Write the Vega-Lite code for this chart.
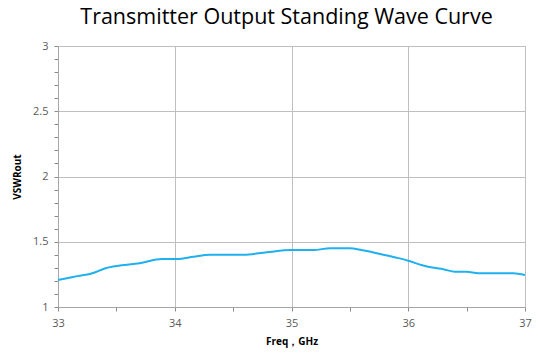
{
  "$schema": "https://vega.github.io/schema/vega-lite/v6.json",
  "width": 467,
  "height": 261,
  "autosize": {"type": "none"},
  "padding": {"left": 58, "top": 46, "right": 13, "bottom": 49},
  "background": "white",
  "title": {
    "text": "Transmitter Output Standing Wave Curve",
    "font": "Open Sans",
    "fontSize": 21.5,
    "fontWeight": "normal",
    "color": "#000000",
    "anchor": "middle",
    "dx": -5,
    "offset": 12
  },
  "config": {
    "view": {"stroke": "#a6a6a6", "strokeWidth": 1},
    "axis": {
      "labelFont": "Open Sans",
      "labelFontSize": 11,
      "labelColor": "#595959",
      "labelFlush": false,
      "labelOverlap": false,
      "titleFont": "Open Sans",
      "titleFontSize": 10,
      "titleFontWeight": "bold",
      "titleColor": "#000000",
      "domainColor": "#a6a6a6",
      "tickColor": "#8c8c8c",
      "gridColor": "#bfbfbf"
    }
  },
  "data": {
    "values": [
      {"f": 33.0, "v": 1.207},
      {"f": 33.13, "v": 1.23},
      {"f": 33.3, "v": 1.26},
      {"f": 33.4, "v": 1.295},
      {"f": 33.5, "v": 1.314},
      {"f": 33.7, "v": 1.335},
      {"f": 33.89, "v": 1.368},
      {"f": 34.02, "v": 1.368},
      {"f": 34.16, "v": 1.385},
      {"f": 34.3, "v": 1.4},
      {"f": 34.59, "v": 1.4},
      {"f": 34.79, "v": 1.42},
      {"f": 35.0, "v": 1.437},
      {"f": 35.19, "v": 1.437},
      {"f": 35.33, "v": 1.45},
      {"f": 35.5, "v": 1.45},
      {"f": 35.6, "v": 1.437},
      {"f": 35.76, "v": 1.406},
      {"f": 35.9, "v": 1.378},
      {"f": 36.0, "v": 1.355},
      {"f": 36.12, "v": 1.32},
      {"f": 36.22, "v": 1.3},
      {"f": 36.3, "v": 1.29},
      {"f": 36.4, "v": 1.27},
      {"f": 36.5, "v": 1.27},
      {"f": 36.6, "v": 1.258},
      {"f": 36.9, "v": 1.258},
      {"f": 37.0, "v": 1.245}
    ]
  },
  "mark": {"type": "line", "color": "#1fb0ef", "strokeWidth": 2, "interpolate": "monotone"},
  "encoding": {
    "x": {
      "field": "f",
      "type": "quantitative",
      "scale": {"domain": [33, 37], "nice": false},
      "axis": {
        "title": "Freq，GHz",
        "format": "~g",
        "values": [33, 33.5, 34, 34.5, 35, 35.5, 36, 36.5, 37],
        "labelExpr": "abs(datum.value - round(datum.value)) < 0.001 ? datum.label : ''",
        "gridOpacity": {"condition": {"test": "abs(datum.value - round(datum.value)) < 0.001", "value": 1}, "value": 0},
        "tickSize": 4,
        "labelPadding": 6,
        "titleAnchor": "middle",
        "titlePadding": 8
      }
    },
    "y": {
      "field": "v",
      "type": "quantitative",
      "scale": {"domain": [1, 3], "nice": false, "zero": false},
      "axis": {
        "title": "VSWRout",
        "format": "~g",
        "values": [1, 1.1, 1.2, 1.3, 1.4, 1.5, 1.6, 1.7, 1.8, 1.9, 2, 2.1, 2.2, 2.3, 2.4, 2.5, 2.6, 2.7, 2.8, 2.9, 3],
        "labelExpr": "abs(datum.value*2 - round(datum.value*2)) < 0.001 ? datum.label : ''",
        "gridOpacity": {"condition": {"test": "abs(datum.value*2 - round(datum.value*2)) < 0.001", "value": 1}, "value": 0},
        "tickSize": 4,
        "labelPadding": 6,
        "titlePadding": 10
      }
    }
  }
}
